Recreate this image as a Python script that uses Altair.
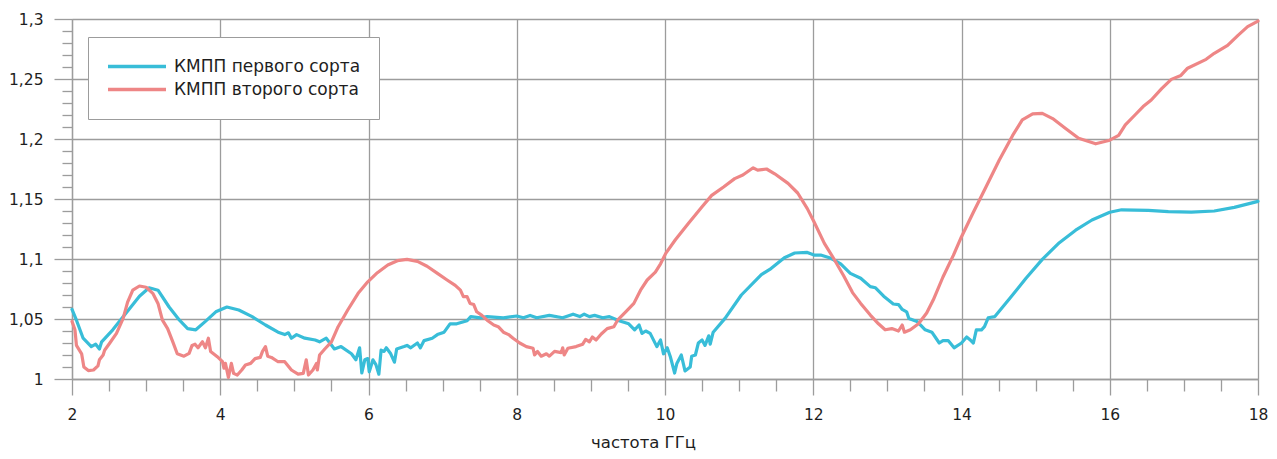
import altair as alt
import pandas as pd

series_names = ["КМПП первого сорта", "КМПП второго сорта"]
series_colors = ["#38bdd8", "#ee8686"]

freq_1 = [2.00, 2.06, 2.15, 2.26, 2.32, 2.37, 2.40, 2.55, 2.73, 2.91, 3.04, 3.16, 3.31, 3.45, 3.56, 3.67,
          3.80, 3.94, 4.09, 4.25, 4.43, 4.61, 4.78, 4.87, 4.92, 4.96, 5.03, 5.14, 5.28, 5.34, 5.43, 5.54,
          5.63, 5.77, 5.83, 5.88, 5.91, 5.95, 5.99, 6.01, 6.06, 6.10, 6.14, 6.17, 6.21, 6.24, 6.30, 6.35,
          6.38, 6.48, 6.52, 6.57, 6.66, 6.70, 6.75, 6.86, 6.93, 7.02, 7.10, 7.19, 7.33, 7.38, 7.51, 7.60,
          7.82, 8.00, 8.09, 8.18, 8.27, 8.44, 8.62, 8.76, 8.85, 8.91, 8.98, 9.05, 9.16, 9.25, 9.38, 9.51,
          9.59, 9.65, 9.69, 9.74, 9.80, 9.89, 9.94, 9.98, 10.03, 10.07, 10.13, 10.16, 10.22, 10.27, 10.34,
          10.36, 10.41, 10.45, 10.50, 10.54, 10.59, 10.61, 10.65, 10.81, 11.03, 11.30, 11.43, 11.61, 11.75,
          11.92, 12.01, 12.10, 12.24, 12.37, 12.50, 12.64, 12.77, 12.84, 12.95, 13.08, 13.15, 13.20, 13.26,
          13.29, 13.40, 13.51, 13.60, 13.70, 13.75, 13.82, 13.90, 14.00, 14.07, 14.11, 14.16, 14.20, 14.27,
          14.31, 14.36, 14.45, 14.65, 14.87, 15.09, 15.32, 15.54, 15.76, 16.00, 16.16, 16.52, 16.79, 17.10,
          17.41, 17.68, 18.00]
vswr_1 = [1.058, 1.049, 1.034, 1.027, 1.029, 1.025, 1.031, 1.041, 1.055, 1.069, 1.076, 1.074, 1.060, 1.049,
          1.042, 1.041, 1.048, 1.056, 1.060, 1.0575, 1.052, 1.045, 1.039, 1.037, 1.0385, 1.034, 1.037, 1.034,
          1.0325, 1.031, 1.034, 1.025, 1.027, 1.021, 1.016, 1.026, 1.005, 1.016, 1.017, 1.006, 1.016, 1.012,
          1.004, 1.024, 1.023, 1.026, 1.021, 1.014, 1.025, 1.027, 1.028, 1.026, 1.030, 1.026, 1.032, 1.034,
          1.037, 1.039, 1.046, 1.046, 1.0485, 1.052, 1.051, 1.052, 1.051, 1.0525, 1.051, 1.053, 1.051, 1.053,
          1.051, 1.054, 1.052, 1.054, 1.052, 1.053, 1.051, 1.052, 1.0485, 1.046, 1.041, 1.045, 1.038, 1.040,
          1.038, 1.027, 1.0325, 1.021, 1.026, 1.019, 1.005, 1.013, 1.020, 1.0067, 1.010, 1.019, 1.020, 1.030,
          1.0325, 1.028, 1.036, 1.029, 1.039, 1.0505, 1.070, 1.087, 1.092, 1.101, 1.105, 1.1055, 1.1033,
          1.1033, 1.1006, 1.096, 1.088, 1.084, 1.077, 1.076, 1.069, 1.0625, 1.062, 1.058, 1.056, 1.0505,
          1.048, 1.041, 1.039, 1.030, 1.032, 1.032, 1.026, 1.030, 1.035, 1.033, 1.030, 1.041, 1.041, 1.0436,
          1.051, 1.052, 1.067, 1.084, 1.0997, 1.1136, 1.124, 1.1325, 1.139, 1.141, 1.1406, 1.1394, 1.139,
          1.140, 1.143, 1.148]

freq_2 = [2.00, 2.04, 2.06, 2.13, 2.16, 2.22, 2.29, 2.35, 2.37, 2.42, 2.44, 2.51, 2.60, 2.69, 2.75, 2.82,
          2.91, 3.00, 3.09, 3.16, 3.22, 3.29, 3.36, 3.42, 3.51, 3.58, 3.62, 3.66, 3.70, 3.76, 3.80, 3.84,
          3.87, 3.96, 4.03, 4.05, 4.07, 4.11, 4.15, 4.18, 4.23, 4.29, 4.34, 4.41, 4.47, 4.54, 4.57, 4.61,
          4.64, 4.69, 4.78, 4.87, 4.96, 5.05, 5.12, 5.16, 5.19, 5.25, 5.30, 5.31, 5.34, 5.41, 5.50, 5.59,
          5.72, 5.86, 5.99, 6.12, 6.26, 6.39, 6.52, 6.66, 6.79, 6.93, 7.06, 7.17, 7.24, 7.28, 7.33, 7.37,
          7.42, 7.46, 7.53, 7.60, 7.69, 7.75, 7.82, 7.89, 7.95, 8.04, 8.13, 8.22, 8.24, 8.28, 8.33, 8.40,
          8.44, 8.51, 8.60, 8.62, 8.64, 8.69, 8.80, 8.89, 8.93, 8.98, 9.02, 9.07, 9.14, 9.22, 9.31, 9.36,
          9.47, 9.58, 9.67, 9.76, 9.87, 9.94, 10.01, 10.14, 10.32, 10.50, 10.63, 10.79, 10.94, 11.05, 11.19,
          11.25, 11.37, 11.48, 11.66, 11.79, 11.92, 12.01, 12.15, 12.28, 12.41, 12.53, 12.64, 12.77, 12.88,
          12.97, 13.06, 13.15, 13.20, 13.23, 13.31, 13.42, 13.53, 13.62, 13.75, 13.89, 14.00, 14.16, 14.33,
          14.51, 14.69, 14.82, 14.96, 15.09, 15.23, 15.40, 15.58, 15.81, 16.00, 16.12, 16.21, 16.34, 16.45,
          16.56, 16.70, 16.83, 16.96, 17.05, 17.30, 17.41, 17.59, 17.73, 17.86, 18.00]
vswr_2 = [1.048, 1.041, 1.028, 1.021, 1.010, 1.007, 1.0075, 1.011, 1.016, 1.020, 1.024, 1.030, 1.038, 1.0505,
          1.064, 1.074, 1.0775, 1.0765, 1.0714, 1.063, 1.049, 1.042, 1.031, 1.021, 1.019, 1.0214, 1.028,
          1.029, 1.026, 1.031, 1.026, 1.034, 1.023, 1.0186, 1.0144, 1.009, 1.013, 1.0014, 1.013, 1.0047,
          1.0033, 1.0075, 1.0117, 1.013, 1.017, 1.018, 1.023, 1.027, 1.019, 1.018, 1.0144, 1.0144, 1.0075,
          1.004, 1.0047, 1.016, 1.0033, 1.0075, 1.013, 1.0075, 1.020, 1.025, 1.031, 1.0436, 1.0575, 1.0714,
          1.081, 1.0886, 1.095, 1.0986, 1.0997, 1.098, 1.094, 1.088, 1.0825, 1.078, 1.074, 1.0686, 1.0686,
          1.063, 1.062, 1.056, 1.053, 1.049, 1.045, 1.0436, 1.039, 1.037, 1.034, 1.030, 1.027, 1.0256, 1.020,
          1.023, 1.019, 1.021, 1.019, 1.023, 1.022, 1.026, 1.020, 1.0256, 1.027, 1.029, 1.033, 1.031, 1.035,
          1.0325, 1.0375, 1.042, 1.0436, 1.049, 1.056, 1.063, 1.074, 1.0825, 1.089, 1.096, 1.1047, 1.116,
          1.130, 1.1436, 1.153, 1.160, 1.167, 1.170, 1.176, 1.174, 1.175, 1.171, 1.163, 1.155, 1.142, 1.131,
          1.113, 1.100, 1.086, 1.072, 1.063, 1.0533, 1.046, 1.041, 1.042, 1.040, 1.045, 1.039, 1.041, 1.046,
          1.055, 1.066, 1.085, 1.103, 1.1186, 1.139, 1.160, 1.1825, 1.203, 1.216, 1.221, 1.2214, 1.217,
          1.209, 1.2006, 1.196, 1.199, 1.203, 1.2117, 1.220, 1.227, 1.2325, 1.242, 1.2497, 1.253, 1.259,
          1.2664, 1.2714, 1.278, 1.2864, 1.2936, 1.2983]

x_ticks = [2.0, 2.5, 3.0, 3.5, 4.0, 4.5, 5.0, 5.5, 6.0, 6.5, 7.0, 7.5, 8.0, 8.5, 9.0, 9.5, 10.0,
           10.5, 11.0, 11.5, 12.0, 12.5, 13.0, 13.5, 14.0, 14.5, 15.0, 15.5, 16.0, 16.5, 17.0, 17.5, 18.0]
y_ticks = [1.00, 1.01, 1.02, 1.03, 1.04, 1.05, 1.06, 1.07, 1.08, 1.09, 1.10, 1.11, 1.12, 1.13, 1.14,
           1.15, 1.16, 1.17, 1.18, 1.19, 1.20, 1.21, 1.22, 1.23, 1.24, 1.25, 1.26, 1.27, 1.28, 1.29, 1.30]

rows = []
for name, fs, vs in [(series_names[0], freq_1, vswr_1), (series_names[1], freq_2, vswr_2)]:
    for i, (f, v) in enumerate(zip(fs, vs)):
        rows.append({"series": name, "f": f, "v": v, "i": i})
df = pd.DataFrame(rows)

FONT = "DejaVu Sans"
GRID = "#9c9c9c"
TXT = "#1e1e1e"
x_major = "abs(datum.value / 2 - round(datum.value / 2)) < 0.001"
y_major = "abs(datum.value * 20 - round(datum.value * 20)) < 0.001"

x_axis = alt.Axis(
    values=x_ticks,
    title="частота ГГц",
    grid=True,
    gridColor=GRID,
    gridWidth=1.3,
    gridOpacity={"condition": {"test": x_major, "value": 1}, "value": 0},
    domainColor=GRID,
    domainWidth=1.3,
    tickColor=GRID,
    tickWidth=1.3,
    tickSize={"condition": {"test": x_major, "value": 16}, "value": 12},
    labelExpr=f"({x_major}) ? format(datum.value, 'd') : ''",
    labelOverlap=False,
    labelFlush=False,
    labelFont=FONT,
    labelFontSize=15.5,
    labelColor=TXT,
    labelPadding=12,
    titleFont=FONT,
    titleFontSize=16.5,
    titleFontWeight="normal",
    titleColor=TXT,
    titlePadding=12,
    titleX=571,
)

y_axis = alt.Axis(
    values=y_ticks,
    title=None,
    grid=True,
    gridColor=GRID,
    gridWidth=1.3,
    gridOpacity={"condition": {"test": y_major, "value": 1}, "value": 0},
    domainColor=GRID,
    domainWidth=1.3,
    tickColor=GRID,
    tickWidth=1.3,
    tickSize={"condition": {"test": y_major, "value": 18}, "value": 10},
    labelExpr=f"({y_major}) ? replace(format(datum.value, '.2~f'), '.', ',') : ''",
    labelOverlap=False,
    labelFont=FONT,
    labelFontSize=15.5,
    labelColor=TXT,
    labelPadding=11,
)

legend = alt.Legend(
    title=None,
    orient="none",
    legendX=16,
    legendY=18,
    symbolType="stroke",
    symbolSize=3364,
    symbolStrokeWidth=3.5,
    clipHeight=23,
    padding=18,
    rowPadding=0,
    fillColor="white",
    strokeColor=GRID,
    labelFont=FONT,
    labelFontSize=17,
    labelColor=TXT,
    labelOffset=6,
    labelLimit=400,
)

chart = (
    alt.Chart(df)
    .mark_line(strokeWidth=3.2, strokeJoin="round", strokeCap="round")
    .encode(
        x=alt.X("f:Q", scale=alt.Scale(domain=[2, 18], nice=False, zero=False), axis=x_axis),
        y=alt.Y("v:Q", scale=alt.Scale(domain=[1.0, 1.3], nice=False, zero=False), axis=y_axis),
        color=alt.Color("series:N", scale=alt.Scale(domain=series_names, range=series_colors),
                        sort=series_names, legend=legend),
        order=alt.Order("i:Q"),
    )
    .properties(
        width=1186,
        height=360,
        autosize=alt.AutoSizeParams(type="none"),
        padding={"left": 64, "top": 11, "right": 11, "bottom": 72},
    )
    .configure_view(stroke=None)
    .configure(background="white")
)

chart.save("out.html", embed_options={"renderer": "svg", "actions": False})
